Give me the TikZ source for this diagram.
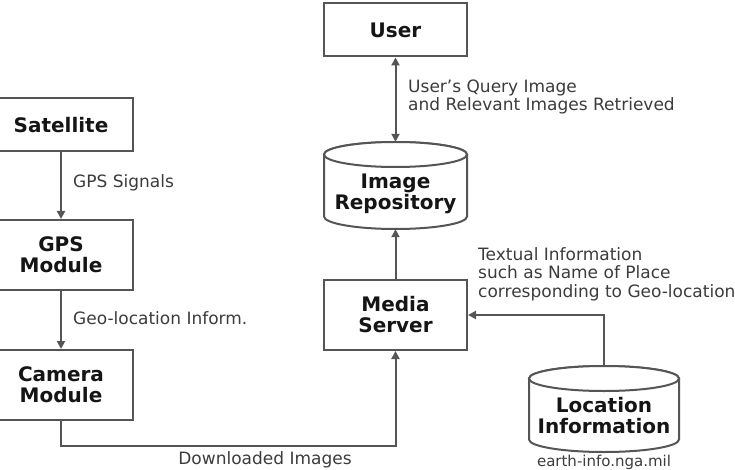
\documentclass[tikz,border=0pt]{standalone}
\usepackage{fontspec}
\setmainfont{DejaVu Sans}
\usetikzlibrary{arrows.meta}
\definecolor{boxline}{HTML}{555555}
\definecolor{labtext}{HTML}{3C3C3C}
\definecolor{boxtext}{HTML}{151515}
\tikzset{
  blk/.style={draw=boxline, line width=2pt, fill=white, minimum width=143pt, minimum height=%
    53pt, inner sep=0pt, align=center, text=boxtext,
    font=\fontsize{20}{21}\selectfont\bfseries},
  cylbody/.style={inner sep=0pt, align=center, text=boxtext,
    font=\fontsize{20}{21}\selectfont\bfseries},
  lab/.style={text=labtext, align=left, inner sep=0pt,
    font=\fontsize{17}{18.5}\selectfont},
  conn/.style={draw=boxline, line width=2pt, -{Triangle[width=8pt,length=8pt]}},
  dconn/.style={draw=boxline, line width=2pt, {Triangle[width=8pt,length=8pt]}-{Triangle[width=8pt,length=8pt]}},
  cyl/.style={draw=boxline, line width=2pt, fill=white}
}
\begin{document}
\begin{tikzpicture}[x=1pt,y=-1pt]
\clip (0,0) rectangle (735,470);
\fill[white] (0,0) rectangle (735,470);

% boxes
\node[blk] (user) at (395.5,30) {User};
\node[blk, minimum width=144pt] (sat) at (61,125) {Satellite};
\node[blk, minimum width=144pt, minimum height=70pt] (gps) at (61,255) {GPS\\Module};
\node[blk, minimum width=144pt, minimum height=70pt] (cam) at (61,385) {Camera\\Module};
\node[blk, minimum height=70pt] (media) at (395.5,315) {Media\\Server};

% Image repository cylinder
\draw[cyl] (324,154.5) -- (324,216.5) arc[start angle=180, end angle=360, x radius=71.5, y radius=-12.5]
  -- (467,154.5) arc[start angle=0, end angle=180, x radius=71.5, y radius=-12.5];
\draw[cyl] (395.5,154.5) ellipse[x radius=71.5, y radius=12.5];
\node[minimum width=143pt, minimum height=87pt, inner sep=0pt] (repo) at (395.5,185.5) {};
\node[cylbody] (repotext) at (395.5,194) {Image\\Repository};

% Location information cylinder
\draw[cyl] (529,378.5) -- (529,439.5) arc[start angle=180, end angle=360, x radius=75, y radius=-12.5]
  -- (679,378.5) arc[start angle=0, end angle=180, x radius=75, y radius=-12.5];
\draw[cyl] (604,378.5) ellipse[x radius=75, y radius=12.5];
\node[minimum width=150pt, minimum height=86pt, inner sep=0pt] (loc) at (604,409) {};
\node[cylbody] (loctext) at (604,416) {Location\\Information};

% connectors
\draw[conn] (sat.south) -- (gps.north);
\draw[conn] (gps.south) -- (cam.north);
\coordinate (corner) at (61,446);
\draw[conn] (cam.south) -- (corner) -| (media.south);
\draw[conn] (media.north) -- (repo.south);
\draw[dconn] (user.south) -- (repo.north);
\draw[conn] (loc.north) |- (media.east);

% labels
\node[lab, anchor=west] (l1) at (73,183) {GPS Signals};
\node[lab, anchor=west] (l2) at (73,318) {Geo-location Inform.};
\node[lab, anchor=west] (l3) at (408,97) {User’s Query Image\\and Relevant Images Retrieved};
\node[lab, anchor=west] (l4) at (478,274) {Textual Information\\such as Name of Place\\corresponding to Geo-location};
\node[lab, anchor=base] (l5) at (265,464.5) {Downloaded Images};
\node[lab, anchor=base, font=\fontsize{15}{17}\selectfont] (l6) at (604,466.5) {earth-info.nga.mil};
\end{tikzpicture}
\end{document}
